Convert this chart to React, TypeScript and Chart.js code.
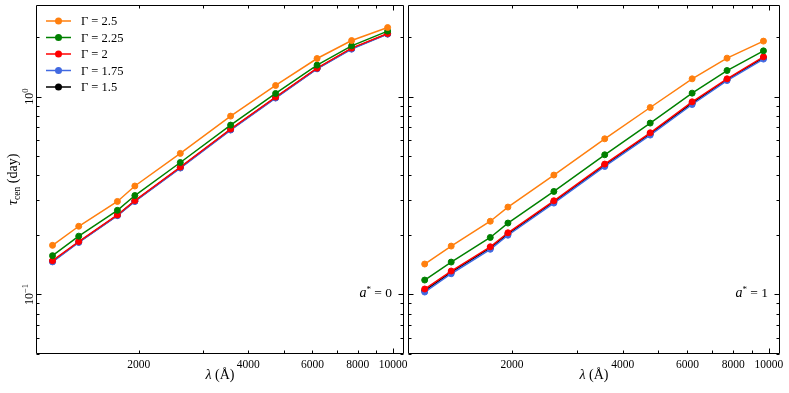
import React, { useEffect, useRef } from "react";
import { Chart, registerables } from "chart.js";
Chart.register(...registerables);

// ---- data ----
const wavelengths = [1158, 1367, 1746, 1950, 2600, 3575, 4753, 6180, 7690, 9660];

const gammaLabels = ["2.5", "2.25", "2", "1.75", "1.5"];
const seriesColors = ["#ff7f0e", "#008000", "#ff0000", "#4169e1", "#000000"];

// a* = 0
const tauA0_g250 = [0.177, 0.221, 0.295, 0.353, 0.516, 0.796, 1.137, 1.556, 1.918, 2.231];
const tauA0_g225 = [0.157, 0.197, 0.266, 0.316, 0.464, 0.717, 1.036, 1.441, 1.803, 2.14];
const tauA0_g200 = [0.148, 0.185, 0.252, 0.298, 0.44, 0.685, 0.993, 1.391, 1.756, 2.08];
const tauA0_g175 = [0.146, 0.183, 0.25, 0.295, 0.435, 0.677, 0.982, 1.38, 1.735, 2.066];
const tauA0_g150 = [0.147, 0.184, 0.251, 0.296, 0.437, 0.68, 0.987, 1.385, 1.745, 2.072];

// a* = 1
const tauA1_g250 = [0.1424, 0.1755, 0.2343, 0.2763, 0.4009, 0.6114, 0.88, 1.2285, 1.563, 1.905];
const tauA1_g225 = [0.1182, 0.1457, 0.194, 0.2294, 0.3313, 0.5077, 0.734, 1.04, 1.353, 1.701];
const tauA1_g200 = [0.1065, 0.1313, 0.1741, 0.2049, 0.2973, 0.4556, 0.6557, 0.9402, 1.2285, 1.587];
const tauA1_g175 = [0.1028, 0.1272, 0.1691, 0.1991, 0.2894, 0.4431, 0.6383, 0.9112, 1.2044, 1.545];
const tauA1_g150 = [0.1045, 0.1292, 0.1716, 0.202, 0.2933, 0.4493, 0.647, 0.9255, 1.216, 1.566];

const xLabelTicks = [2000, 4000, 6000, 8000, 10000];
const xMinorTicks = [2000, 3000, 4000, 5000, 6000, 7000, 8000, 9000];
const xMajorTicks = [10000];
const yMajorTicks = [0.1, 1];
const yMinorTicks = [0.05, 0.06, 0.07, 0.08, 0.09, 0.2, 0.3, 0.4, 0.5, 0.6, 0.7, 0.8, 0.9, 2];
const yLabelTicks = [
  { value: 1, exp: "0" },
  { value: 0.1, exp: "\u22121" },
];

const X_MIN = 1043;
const X_MAX = 10714;
const Y_MIN = 0.05;
const Y_MAX = 2.9;

const FAMILY = '"Liberation Serif", "DejaVu Serif", serif';

type Part = { text: string; size: number; italic?: boolean; dy?: number };
const fontOf = (p: Part) => `${p.italic ? "italic " : ""}${p.size}px ${FAMILY}`;

function drawParts(ctx: CanvasRenderingContext2D, parts: Part[], x: number, y: number, align: "left" | "center" | "right") {
  let total = 0;
  const widths = parts.map((p) => {
    ctx.font = fontOf(p);
    const w = ctx.measureText(p.text).width;
    total += w;
    return w;
  });
  let cx = align === "left" ? x : align === "center" ? x - total / 2 : x - total;
  ctx.textAlign = "left";
  ctx.textBaseline = "alphabetic";
  parts.forEach((p, i) => {
    ctx.font = fontOf(p);
    ctx.fillText(p.text, cx, y + (p.dy || 0));
    cx += widths[i];
  });
}

type PanelOpts = { showYLabels: boolean; showLegend: boolean; spin: string };

function framePlugin(opts: PanelOpts) {
  return {
    id: "frame",
    afterDraw(chart: any) {
      const ctx: CanvasRenderingContext2D = chart.ctx;
      const { left, right, top, bottom } = chart.chartArea;
      const xs = chart.scales.x;
      const ys = chart.scales.y;
      ctx.save();
      ctx.strokeStyle = "#000";
      ctx.fillStyle = "#000";
      ctx.lineWidth = 1;
      const L = Math.round(left) + 0.5;
      const R = Math.round(right) - 0.5;
      const T = Math.round(top) + 0.5;
      const B = Math.round(bottom) - 0.5;
      ctx.beginPath();
      ctx.rect(L, T, R - L, B - T);
      ctx.stroke();

      const xTick = (v: number, len: number) => {
        const px = Math.round(xs.getPixelForValue(v)) + 0.5;
        ctx.beginPath();
        ctx.moveTo(px, B);
        ctx.lineTo(px, B - len);
        ctx.moveTo(px, T);
        ctx.lineTo(px, T + len);
        ctx.stroke();
      };
      const yTick = (v: number, len: number) => {
        const py = Math.round(ys.getPixelForValue(v)) + 0.5;
        ctx.beginPath();
        ctx.moveTo(L, py);
        ctx.lineTo(L + len, py);
        ctx.moveTo(R, py);
        ctx.lineTo(R - len, py);
        ctx.stroke();
      };
      xMinorTicks.forEach((v) => xTick(v, 3));
      xMajorTicks.forEach((v) => xTick(v, 5));
      yMinorTicks.forEach((v) => yTick(v, 3));
      yMajorTicks.forEach((v) => yTick(v, 5));

      // x tick labels
      xLabelTicks.forEach((v) => {
        const px = xs.getPixelForValue(v);
        drawParts(ctx, [{ text: String(v), size: 11.5 }], px, 368, "center");
      });

      // x title
      const cxp = (left + right) / 2;
      drawParts(
        ctx,
        [
          { text: "\u03bb", size: 14, italic: true },
          { text: " (\u00c5)", size: 14 },
        ],
        cxp,
        379,
        "center"
      );

      if (opts.showYLabels) {
        yLabelTicks.forEach((t) => {
          const py = ys.getPixelForValue(t.value);
          ctx.save();
          ctx.translate(33, py);
          ctx.rotate(-Math.PI / 2);
          drawParts(
            ctx,
            [
              { text: "10", size: 12 },
              { text: t.exp, size: 8.5, dy: -5 },
            ],
            0,
            0,
            "center"
          );
          ctx.restore();
        });
        ctx.save();
        ctx.translate(17, (top + bottom) / 2);
        ctx.rotate(-Math.PI / 2);
        drawParts(
          ctx,
          [
            { text: "\u03c4", size: 15, italic: true },
            { text: "cen", size: 9.5, dy: 3 },
            { text: " (day)", size: 14 },
          ],
          0,
          0,
          "center"
        );
        ctx.restore();
      }

      // annotation
      drawParts(
        ctx,
        [
          { text: "a", size: 14, italic: true },
          { text: "*", size: 9, dy: -5 },
          { text: " = " + opts.spin, size: 13.5 },
        ],
        right - 12,
        297,
        "right"
      );

      if (opts.showLegend) {
        const rowYs = [21, 37.5, 54, 70.5, 87];
        gammaLabels.forEach((g, i) => {
          const y = rowYs[i];
          ctx.strokeStyle = seriesColors[i];
          ctx.fillStyle = seriesColors[i];
          ctx.lineWidth = 1.5;
          ctx.beginPath();
          ctx.moveTo(left + 10, y);
          ctx.lineTo(left + 35, y);
          ctx.stroke();
          ctx.beginPath();
          ctx.arc(left + 22.5, y, 3.5, 0, Math.PI * 2);
          ctx.fill();
          ctx.fillStyle = "#000";
          drawParts(ctx, [{ text: "\u0393 = " + g, size: 12.5 }], left + 45, y + 4, "left");
        });
      }
      ctx.restore();
    },
  };
}

function makeDatasets(series: number[][]) {
  return series.map((vals, i) => ({
    label: "\u0393 = " + gammaLabels[i],
    data: wavelengths.map((w, j) => ({ x: w, y: vals[j] })),
    borderColor: seriesColors[i],
    backgroundColor: seriesColors[i],
    borderWidth: 1.5,
    pointRadius: 3,
    pointBorderWidth: 1,
    pointBorderColor: seriesColors[i],
    pointBackgroundColor: seriesColors[i],
    tension: 0,
    fill: false,
  }));
}

function Panel(props: {
  left: number;
  width: number;
  padL: number;
  padR: number;
  series: number[][];
  opts: PanelOpts;
}) {
  const ref = useRef<HTMLCanvasElement | null>(null);
  useEffect(() => {
    if (!ref.current) return;
    const chart = new Chart(ref.current, {
      type: "line",
      data: { datasets: makeDatasets(props.series) as any },
      options: {
        animation: false,
        responsive: false,
        maintainAspectRatio: false,
        events: [],
        layout: { padding: { left: props.padL, right: props.padR, top: 5, bottom: 39 } },
        plugins: { legend: { display: false }, tooltip: { enabled: false } },
        scales: {
          x: { type: "logarithmic", min: X_MIN, max: X_MAX, display: false },
          y: { type: "logarithmic", min: Y_MIN, max: Y_MAX, display: false },
        },
      },
      plugins: [framePlugin(props.opts)],
    });
    return () => chart.destroy();
  }, []);
  return (
    <canvas
      ref={ref}
      width={props.width}
      height={393}
      style={{ position: "absolute", left: props.left, top: 0, width: props.width, height: 393 }}
    />
  );
}

export default function App() {
  return (
    <div style={{ position: "fixed", left: 0, top: 0, width: 789, height: 393, background: "#fff", overflow: "hidden" }}>
      <Panel
        left={0}
        width={409}
        padL={36}
        padR={1}
        series={[tauA0_g250, tauA0_g225, tauA0_g200, tauA0_g175, tauA0_g150]}
        opts={{ showYLabels: true, showLegend: true, spin: "0" }}
      />
      <Panel
        left={400}
        width={389}
        padL={8}
        padR={9}
        series={[tauA1_g250, tauA1_g225, tauA1_g200, tauA1_g175, tauA1_g150]}
        opts={{ showYLabels: false, showLegend: false, spin: "1" }}
      />
    </div>
  );
}
